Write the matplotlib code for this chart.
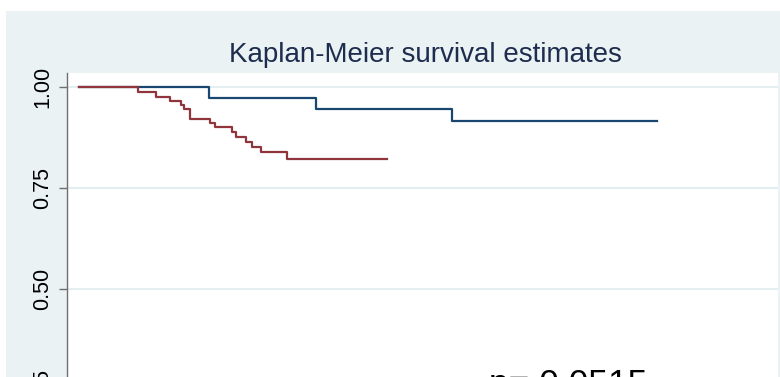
import matplotlib.pyplot as plt
from matplotlib.patches import Rectangle

# Kaplan-Meier step data (analysis time in months, survival probability)
time_grp1 = [0, 10.8, 19.7, 31.0, 48.0]
surv_grp1 = [1.0, 0.974, 0.947, 0.917, 0.917]

time_grp2 = [0, 4.86, 6.41, 7.58, 8.46, 8.74, 9.19, 10.9, 11.3, 12.7,
             13.0, 13.9, 14.4, 15.1, 17.3, 25.6]
surv_grp2 = [1.0, 0.988, 0.977, 0.967, 0.957, 0.946, 0.923, 0.913, 0.901,
             0.890, 0.877, 0.866, 0.853, 0.841, 0.823, 0.823]

y_ticks = [0, 0.25, 0.5, 0.75, 1.0]
y_tick_labels = ['0.00', '0.25', '0.50', '0.75', '1.00']
p_value = 0.0515

plt.rcParams['font.family'] = ['Liberation Sans', 'DejaVu Sans']

fig = plt.figure(figsize=(7.8, 3.77), dpi=100, facecolor='white')

# Stata-style light blue graph region, kept behind the axes
fig.patches.append(Rectangle((6 / 780, 0), 1, (377 - 11) / 377,
                             transform=fig.transFigure, facecolor='#eaf2f3',
                             edgecolor='none', zorder=-10))

ax = fig.add_axes([67 / 780, -0.342, 711 / 780, 1.1486])
ax.set_facecolor('white')

ax.step(time_grp1, surv_grp1, where='post', color='#1a476f', linewidth=1.6, zorder=3)
ax.step(time_grp2, surv_grp2, where='post', color='#90353b', linewidth=1.6, zorder=4)

ax.set_xlim(-0.997, 58.06)
ax.set_ylim(-0.0359, 1.0359)

ax.set_yticks(y_ticks)
ax.set_yticklabels(y_tick_labels, fontsize=15.5, rotation=90, va='center')
ax.tick_params(axis='y', length=6, width=1, color='#6e6e6e', pad=4)
ax.set_xticks([])

ax.grid(axis='y', color='#e4eef0', linewidth=1.5)
ax.set_axisbelow(True)

for side in ['top', 'right', 'bottom']:
    ax.spines[side].set_visible(False)
ax.spines['left'].set_color('#6e6e6e')
ax.spines['left'].set_linewidth(1)

ax.text(34.05, 0.241, f'p= {p_value}', fontsize=25.5, color='black',
        ha='left', va='baseline')

fig.text(425 / 780, (377 - 62.3) / 377, 'Kaplan-Meier survival estimates',
         fontsize=20, color='#1e2d4f', ha='center', va='baseline')

fig.savefig('out.png', dpi=100)
